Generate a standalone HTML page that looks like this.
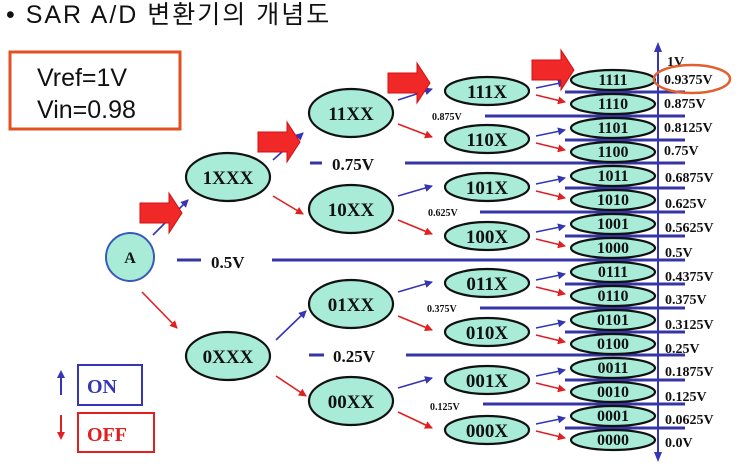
<!DOCTYPE html>
<html><head><meta charset="utf-8"><style>
html,body{margin:0;padding:0;background:#fff;}
svg{display:block;}
.t{font-family:"Liberation Serif",serif;font-weight:bold;fill:#111;}
</style></head><body>
<svg width="740" height="464" viewBox="0 0 740 464" xmlns="http://www.w3.org/2000/svg">
<defs>
<marker id="ab" markerWidth="8" markerHeight="8" refX="7" refY="4" orient="auto" markerUnits="userSpaceOnUse"><path d="M0,0 L8,4 L0,8 Z" fill="#3535b5"/></marker>
<marker id="ar" markerWidth="8" markerHeight="8" refX="7" refY="4" orient="auto" markerUnits="userSpaceOnUse"><path d="M0,0 L8,4 L0,8 Z" fill="#e02020"/></marker>
<g id="bigarrow"><path d="M0,10 L29,10 L29,0 L42,20 L29,40 L29,30 L0,30 Z" fill="#f02828" stroke="#d01010" stroke-width="1"/></g>
</defs>
<text x="6" y="23" font-family="'Liberation Sans','Noto Sans CJK KR',sans-serif" font-size="25" letter-spacing="2" fill="#111">• SAR A/D 변환기의 개념도</text>
<rect x="10" y="52" width="170" height="77" fill="none" stroke="#e05020" stroke-width="3"/>
<text x="37" y="86" font-family="'Liberation Sans',sans-serif" font-size="25" fill="#111">Vref=1V</text>
<text x="37" y="118" font-family="'Liberation Sans',sans-serif" font-size="25" fill="#111">Vin=0.98</text>

<g stroke="#3535a5" stroke-width="3">
<line x1="177" y1="260" x2="201" y2="260"/><line x1="272" y1="260" x2="685" y2="260"/>
<line x1="310" y1="163" x2="322" y2="163"/><line x1="405" y1="163" x2="685" y2="163"/>
<line x1="309" y1="355" x2="324" y2="355"/><line x1="406" y1="355" x2="685" y2="355"/>
<line x1="485" y1="116" x2="685" y2="116"/>
<line x1="480" y1="212" x2="685" y2="212"/>
<line x1="480" y1="308" x2="685" y2="308"/>
<line x1="483" y1="404" x2="685" y2="404"/>
<line x1="565" y1="92" x2="685" y2="92"/>
<line x1="565" y1="140" x2="685" y2="140"/>
<line x1="565" y1="188" x2="685" y2="188"/>
<line x1="565" y1="236" x2="685" y2="236"/>
<line x1="565" y1="284" x2="685" y2="284"/>
<line x1="565" y1="332" x2="685" y2="332"/>
<line x1="565" y1="380" x2="685" y2="380"/>
<line x1="565" y1="428" x2="685" y2="428"/>
</g>
<text class="t" x="211" y="268" font-size="17">0.5V</text>
<text class="t" x="332" y="170" font-size="17">0.75V</text>
<text class="t" x="333" y="362" font-size="17">0.25V</text>
<text class="t" x="432" y="120" font-size="10">0.875V</text>
<text class="t" x="428" y="216" font-size="10">0.625V</text>
<text class="t" x="427" y="312" font-size="10">0.375V</text>
<text class="t" x="430" y="410" font-size="10">0.125V</text>

<line x1="658" y1="50" x2="658" y2="454" stroke="#3535b5" stroke-width="2"/>
<path d="M654,52 L658,42 L662,52 Z" fill="#3535b5"/>
<path d="M654,452 L658,462 L662,452 Z" fill="#3535b5"/>
<text class="t" x="667" y="66" font-size="14">1V</text>

<circle cx="130" cy="257" r="24" fill="#a8ecd8" stroke="#3a5ab8" stroke-width="2"/>
<text class="t" x="130" y="263" font-size="16" text-anchor="middle">A</text>
<g fill="#a8ecd8" stroke="#111" stroke-width="2.2">
<ellipse cx="228" cy="177" rx="42" ry="24"/><ellipse cx="228" cy="356" rx="42" ry="24"/>
<ellipse cx="351" cy="113" rx="42" ry="24"/><ellipse cx="351" cy="209" rx="42" ry="24"/>
<ellipse cx="351" cy="304" rx="42" ry="24"/><ellipse cx="351" cy="401" rx="42" ry="24"/>
<ellipse cx="487" cy="91" rx="42" ry="14"/><ellipse cx="487" cy="139" rx="42" ry="14"/>
<ellipse cx="487" cy="187" rx="42" ry="14"/><ellipse cx="487" cy="236" rx="42" ry="14"/>
<ellipse cx="487" cy="283" rx="42" ry="14"/><ellipse cx="487" cy="332" rx="42" ry="14"/>
<ellipse cx="487" cy="380" rx="42" ry="14"/><ellipse cx="487" cy="430" rx="42" ry="14"/>
</g>
<g fill="#a8ecd8" stroke="#111" stroke-width="2.2">
<ellipse cx="613" cy="80" rx="42" ry="10"/><ellipse cx="613" cy="104" rx="42" ry="10"/>
<ellipse cx="613" cy="128" rx="42" ry="10"/><ellipse cx="613" cy="152" rx="42" ry="10"/>
<ellipse cx="613" cy="176" rx="42" ry="10"/><ellipse cx="613" cy="200" rx="42" ry="10"/>
<ellipse cx="613" cy="224" rx="42" ry="10"/><ellipse cx="613" cy="248" rx="42" ry="10"/>
<ellipse cx="613" cy="272" rx="42" ry="10"/><ellipse cx="613" cy="296" rx="42" ry="10"/>
<ellipse cx="613" cy="320" rx="42" ry="10"/><ellipse cx="613" cy="344" rx="42" ry="10"/>
<ellipse cx="613" cy="368" rx="42" ry="10"/><ellipse cx="613" cy="392" rx="42" ry="10"/>
<ellipse cx="613" cy="416" rx="42" ry="10"/><ellipse cx="613" cy="440" rx="42" ry="10"/>
</g>
<g class="t" font-size="19" text-anchor="middle">
<text x="228" y="184">1XXX</text><text x="228" y="363">0XXX</text>
<text x="351" y="120">11XX</text><text x="351" y="216">10XX</text>
<text x="351" y="311">01XX</text><text x="351" y="408">00XX</text>
<text x="487" y="98">111X</text><text x="487" y="146">110X</text>
<text x="487" y="194">101X</text><text x="487" y="243">100X</text>
<text x="487" y="290">011X</text><text x="487" y="339">010X</text>
<text x="487" y="387">001X</text><text x="487" y="437">000X</text>
</g>
<g class="t" font-size="16" text-anchor="middle">
<text x="613" y="85">1111</text><text x="613" y="109">1110</text>
<text x="613" y="133">1101</text><text x="613" y="157">1100</text>
<text x="613" y="181">1011</text><text x="613" y="205">1010</text>
<text x="613" y="229">1001</text><text x="613" y="253">1000</text>
<text x="613" y="277">0111</text><text x="613" y="301">0110</text>
<text x="613" y="325">0101</text><text x="613" y="349">0100</text>
<text x="613" y="373">0011</text><text x="613" y="397">0010</text>
<text x="613" y="421">0001</text><text x="613" y="445">0000</text>
</g>
<g class="t" font-size="14">
<text x="664" y="84">0.9375V</text><text x="664" y="108">0.875V</text>
<text x="664" y="132">0.8125V</text><text x="664" y="155">0.75V</text>
<text x="665" y="182">0.6875V</text><text x="665" y="208">0.625V</text>
<text x="665" y="232">0.5625V</text><text x="665" y="257">0.5V</text>
<text x="665" y="281">0.4375V</text><text x="665" y="304">0.375V</text>
<text x="665" y="329">0.3125V</text><text x="665" y="353">0.25V</text>
<text x="665" y="376">0.1875V</text><text x="665" y="401">0.125V</text>
<text x="665" y="424">0.0625V</text><text x="665" y="447">0.0V</text>
</g>
<ellipse cx="692" cy="79" rx="38" ry="14" fill="none" stroke="#e06030" stroke-width="2.5"/>

<g stroke-width="1.6" fill="none">
<line x1="153" y1="235" x2="188" y2="200" stroke="#3535b5" marker-end="url(#ab)"/>
<line x1="142" y1="292" x2="177" y2="328" stroke="#e02020" marker-end="url(#ar)"/>
<line x1="273" y1="160" x2="303" y2="133" stroke="#3535b5" marker-end="url(#ab)"/>
<line x1="273" y1="196" x2="303" y2="214" stroke="#e02020" marker-end="url(#ar)"/>
<line x1="276" y1="340" x2="306" y2="311" stroke="#3535b5" marker-end="url(#ab)"/>
<line x1="276" y1="376" x2="306" y2="396" stroke="#e02020" marker-end="url(#ar)"/>
</g>
<g stroke-width="1.6" fill="none">
<line x1="398" y1="100" x2="432" y2="89" stroke="#3535b5" marker-end="url(#ab)"/>
<line x1="398" y1="124" x2="432" y2="137" stroke="#e02020" marker-end="url(#ar)"/>
<line x1="398" y1="196" x2="432" y2="186" stroke="#3535b5" marker-end="url(#ab)"/>
<line x1="398" y1="220" x2="432" y2="234" stroke="#e02020" marker-end="url(#ar)"/>
<line x1="398" y1="292" x2="432" y2="282" stroke="#3535b5" marker-end="url(#ab)"/>
<line x1="398" y1="316" x2="432" y2="330" stroke="#e02020" marker-end="url(#ar)"/>
<line x1="398" y1="388" x2="432" y2="378" stroke="#3535b5" marker-end="url(#ab)"/>
<line x1="398" y1="412" x2="432" y2="428" stroke="#e02020" marker-end="url(#ar)"/>
</g>
<g stroke-width="1.6" fill="none">
<line x1="536" y1="88" x2="565" y2="82" stroke="#3535b5" marker-end="url(#ab)"/>
<line x1="536" y1="95" x2="565" y2="102" stroke="#e02020" marker-end="url(#ar)"/>
<line x1="536" y1="136" x2="565" y2="130" stroke="#3535b5" marker-end="url(#ab)"/>
<line x1="536" y1="143" x2="565" y2="150" stroke="#e02020" marker-end="url(#ar)"/>
<line x1="536" y1="184" x2="565" y2="178" stroke="#3535b5" marker-end="url(#ab)"/>
<line x1="536" y1="191" x2="565" y2="198" stroke="#e02020" marker-end="url(#ar)"/>
<line x1="536" y1="232" x2="565" y2="226" stroke="#3535b5" marker-end="url(#ab)"/>
<line x1="536" y1="239" x2="565" y2="246" stroke="#e02020" marker-end="url(#ar)"/>
<line x1="536" y1="280" x2="565" y2="274" stroke="#3535b5" marker-end="url(#ab)"/>
<line x1="536" y1="287" x2="565" y2="294" stroke="#e02020" marker-end="url(#ar)"/>
<line x1="536" y1="328" x2="565" y2="322" stroke="#3535b5" marker-end="url(#ab)"/>
<line x1="536" y1="335" x2="565" y2="342" stroke="#e02020" marker-end="url(#ar)"/>
<line x1="536" y1="376" x2="565" y2="370" stroke="#3535b5" marker-end="url(#ab)"/>
<line x1="536" y1="383" x2="565" y2="390" stroke="#e02020" marker-end="url(#ar)"/>
<line x1="536" y1="424" x2="565" y2="418" stroke="#3535b5" marker-end="url(#ab)"/>
<line x1="536" y1="431" x2="565" y2="438" stroke="#e02020" marker-end="url(#ar)"/>
</g>

<use href="#bigarrow" transform="translate(140,193)"/>
<use href="#bigarrow" transform="translate(258,122)"/>
<use href="#bigarrow" transform="translate(388,63)"/>
<use href="#bigarrow" transform="translate(532,50)"/>

<line x1="61" y1="395" x2="61" y2="376" stroke="#3535b5" stroke-width="2"/>
<path d="M57,378 L61,370 L65,378 Z" fill="#3535b5"/>
<rect x="78" y="365" width="64" height="40" fill="none" stroke="#3535b5" stroke-width="2"/>
<text class="t" x="87" y="393" font-size="20" style="fill:#3535b5">ON</text>
<line x1="61" y1="415" x2="61" y2="434" stroke="#e02020" stroke-width="2"/>
<path d="M57,432 L61,440 L65,432 Z" fill="#e02020"/>
<rect x="78" y="413" width="76" height="39" fill="none" stroke="#e02020" stroke-width="2"/>
<text class="t" x="87" y="441" font-size="20" style="fill:#e02020">OFF</text>
</svg>
</body></html>
